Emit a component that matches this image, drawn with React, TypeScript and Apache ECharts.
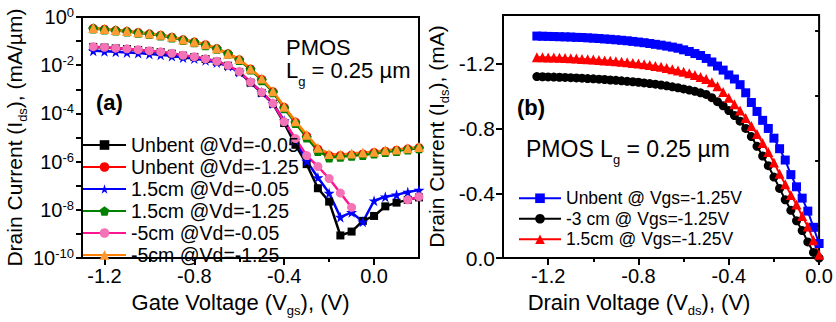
import React, { useEffect, useRef } from 'react';
import * as echarts from 'echarts';

const FONT = "'Liberation Sans', Arial, sans-serif";

// ---------- Panel (a): transfer characteristics ----------
const vgs = [-1.25, -1.2, -1.15, -1.1, -1.05, -1.0, -0.95, -0.9, -0.85, -0.8, -0.75, -0.7, -0.65, -0.6, -0.55, -0.5, -0.45, -0.4, -0.35, -0.3, -0.25, -0.2, -0.15, -0.1, -0.05, 0, 0.05, 0.1, 0.15, 0.2];

const unbentVd005 = [5.75e-2, 5.4e-2, 5.0e-2, 4.7e-2, 4.3e-2, 3.9e-2, 3.5e-2, 3.0e-2, 2.5e-2, 2.2e-2, 1.8e-2, 1.4e-2, 9.5e-3, 5.2e-3, 1.9e-3, 7.1e-4, 2.5e-4, 4.0e-5, 5.0e-6, 7.9e-7, 7.9e-8, 2.2e-8, 8.7e-10, 1.26e-9, 3.5e-9, 5.6e-9, 1.4e-8, 2.0e-8, 2.6e-8, 3.3e-8];
const unbentVd125 = [3.4e-1, 3.1e-1, 2.8e-1, 2.55e-1, 2.3e-1, 2.0e-1, 1.75e-1, 1.45e-1, 1.15e-1, 9.2e-2, 7.1e-2, 4.9e-2, 3.0e-2, 1.7e-2, 7.0e-3, 2.6e-3, 8.0e-4, 1.8e-4, 4.4e-5, 1.15e-5, 3.3e-6, 1.8e-6, 1.8e-6, 1.9e-6, 2.1e-6, 2.4e-6, 2.7e-6, 3.0e-6, 3.4e-6, 3.8e-6];
const cm15Vd005 = [4.0e-2, 3.8e-2, 3.6e-2, 3.4e-2, 3.2e-2, 2.95e-2, 2.7e-2, 2.4e-2, 2.1e-2, 1.9e-2, 1.6e-2, 1.3e-2, 9.3e-3, 5.2e-3, 2.0e-3, 7.6e-4, 2.6e-4, 5.0e-5, 7.9e-6, 1.07e-6, 2.2e-7, 5.0e-8, 5.0e-9, 7.9e-9, 3.2e-9, 2.4e-8, 3.5e-8, 4.2e-8, 5.5e-8, 6.6e-8];
const cm15Vd125 = [3.3e-1, 3.0e-1, 2.75e-1, 2.5e-1, 2.24e-1, 1.95e-1, 1.7e-1, 1.41e-1, 1.12e-1, 8.9e-2, 6.8e-2, 4.8e-2, 3.0e-2, 1.66e-2, 6.6e-3, 2.4e-3, 7.6e-4, 1.66e-4, 4.0e-5, 1.0e-5, 2.8e-6, 1.5e-6, 1.6e-6, 1.74e-6, 1.9e-6, 2.2e-6, 2.5e-6, 2.8e-6, 3.2e-6, 3.6e-6];
const cm5Vd005 = [5.9e-2, 5.5e-2, 5.1e-2, 4.8e-2, 4.4e-2, 4.0e-2, 3.6e-2, 3.1e-2, 2.6e-2, 2.25e-2, 1.85e-2, 1.45e-2, 9.8e-3, 5.5e-3, 2.0e-3, 7.5e-4, 2.6e-4, 4.5e-5, 9.1e-6, 1.78e-6, 6.3e-7, 2.0e-7, 5.0e-8, 1.26e-8, null, null, null, null, 2.6e-8, 3.5e-8];
const cm5Vd125 = [3.47e-1, 3.16e-1, 2.88e-1, 2.63e-1, 2.34e-1, 2.09e-1, 1.82e-1, 1.51e-1, 1.17e-1, 9.5e-2, 7.4e-2, 5.0e-2, 3.0e-2, 1.82e-2, 7.2e-3, 2.8e-3, 8.3e-4, 1.9e-4, 4.8e-5, 1.3e-5, 3.8e-6, 2.1e-6, 2.0e-6, 2.2e-6, 2.4e-6, 2.6e-6, 2.95e-6, 3.2e-6, 3.6e-6, 4.1e-6];

const aXTicks = [-1.2, -0.8, -0.4, 0.0];
const aXMinorTicks = [-1.0, -0.6, -0.2];

// ---------- Panel (b): output characteristics ----------
const vds = [-1.25, -1.225, -1.2, -1.175, -1.15, -1.125, -1.1, -1.075, -1.05, -1.025, -1.0, -0.975, -0.95, -0.925, -0.9, -0.875, -0.85, -0.825, -0.8, -0.775, -0.75, -0.725, -0.7, -0.675, -0.65, -0.625, -0.6, -0.575, -0.55, -0.525, -0.5, -0.475, -0.45, -0.425, -0.4, -0.375, -0.35, -0.325, -0.3, -0.275, -0.25, -0.225, -0.2, -0.175, -0.15, -0.125, -0.1, -0.075, -0.05, -0.025, 0];

const unbentIds = [-1.370, -1.369, -1.368, -1.367, -1.366, -1.365, -1.364, -1.362, -1.361, -1.359, -1.357, -1.355, -1.352, -1.350, -1.347, -1.344, -1.341, -1.337, -1.333, -1.329, -1.324, -1.319, -1.314, -1.308, -1.302, -1.295, -1.285, -1.275, -1.262, -1.250, -1.232, -1.210, -1.185, -1.160, -1.130, -1.105, -1.070, -1.020, -0.960, -0.905, -0.850, -0.800, -0.740, -0.675, -0.605, -0.515, -0.440, -0.370, -0.290, -0.190, -0.090];
const minus3cmIds = [-1.120, -1.119, -1.118, -1.117, -1.116, -1.115, -1.113, -1.112, -1.110, -1.108, -1.106, -1.104, -1.102, -1.099, -1.097, -1.094, -1.091, -1.088, -1.085, -1.081, -1.077, -1.073, -1.068, -1.063, -1.057, -1.051, -1.044, -1.037, -1.029, -1.020, -1.010, -0.990, -0.965, -0.940, -0.910, -0.880, -0.845, -0.800, -0.750, -0.690, -0.630, -0.570, -0.500, -0.430, -0.360, -0.295, -0.230, -0.170, -0.100, -0.035, 0.000];
const cm15Ids = [-1.240, -1.239, -1.238, -1.237, -1.236, -1.234, -1.233, -1.231, -1.229, -1.227, -1.225, -1.222, -1.220, -1.217, -1.214, -1.211, -1.208, -1.204, -1.200, -1.196, -1.191, -1.186, -1.180, -1.173, -1.166, -1.158, -1.150, -1.140, -1.130, -1.118, -1.105, -1.085, -1.060, -1.025, -0.990, -0.950, -0.910, -0.865, -0.815, -0.765, -0.710, -0.655, -0.590, -0.520, -0.455, -0.390, -0.330, -0.260, -0.195, -0.110, -0.020];

const bXTicks = [-1.2, -0.8, -0.4, 0.0];
const bXMinorTicks = [-1.0, -0.6, -0.2];
const bYTicks = [-1.2, -0.8, -0.4, 0.0];
const bYMinorTicks = [-1.4, -1.0, -0.6, -0.2];

const STAR = 'path://M50,0 L61,35 L98,35 L68,57 L79,91 L50,70 L21,91 L32,57 L2,35 L39,35 Z';
const PENTAGON = 'path://M50,0 L98,36 L80,95 L20,95 L2,36 Z';

const subRich = (main: number, subSize: number, pad: number) => ({
  n: { fontSize: main, fontFamily: FONT, color: '#000' },
  s: { fontSize: subSize, fontFamily: FONT, color: '#000', padding: [pad, 0, 0, 0] },
});

const axisLineStyle = { color: '#000', width: 2 };

export default function App() {
  const ref = useRef<HTMLDivElement>(null);

  useEffect(() => {
    document.body.style.margin = '0';
    if (!ref.current) return;
    const chart = echarts.init(ref.current, undefined, { renderer: 'svg' });

    const pairs = (xs: number[], ys: (number | null)[]) => xs.map((x, i) => [x, ys[i] == null ? null : ys[i]]);

    const leftSeries = (name: string, ys: (number | null)[], color: string, symbol: string, size: number, markColor?: string) => ({
      type: 'line',
      name,
      xAxisIndex: 0,
      yAxisIndex: 0,
      data: pairs(vgs, ys),
      symbol,
      symbolSize: size,
      connectNulls: false,
      lineStyle: { color, width: 2.5 },
      itemStyle: { color: markColor || color },
    });

    const rightSeries = (name: string, ys: number[], color: string, symbol: string, size: number) => ({
      type: 'line',
      name,
      xAxisIndex: 2,
      yAxisIndex: 1,
      data: pairs(vds, ys),
      symbol,
      symbolSize: size,
      lineStyle: { color, width: 2 },
      itemStyle: { color },
    });

    const labelFmt = (v: number) => v.toFixed(1);

    const option: any = {
      animation: false,
      grid: [
        { left: 82, top: 17, width: 337, height: 248, show: true, borderColor: '#000', borderWidth: 2, backgroundColor: 'transparent' },
        { left: 503, top: 15, width: 319, height: 251, show: true, borderColor: '#000', borderWidth: 2, backgroundColor: 'transparent' },
      ],
      xAxis: [
        {
          type: 'value', gridIndex: 0, min: -1.3, max: 0.2,
          axisLine: { show: true, onZero: false, lineStyle: axisLineStyle },
          axisTick: { show: true, length: 7, customValues: aXTicks, lineStyle: axisLineStyle },
          axisLabel: { customValues: aXTicks, formatter: labelFmt, fontSize: 20, fontFamily: FONT, color: '#000', margin: 8 },
          splitLine: { show: false },
          name: '{n|Gate Voltage (V}{s|gs}{n|), (V)}',
          nameLocation: 'middle', nameGap: 27,
          nameTextStyle: { rich: subRich(22, 13, 17), padding: [0, 20, 0, 0] },
        },
        {
          type: 'value', gridIndex: 0, min: -1.3, max: 0.2, position: 'bottom',
          axisLine: { show: false },
          axisTick: { show: true, length: 4, customValues: aXMinorTicks, lineStyle: axisLineStyle },
          axisLabel: { show: false },
          splitLine: { show: false },
        },
        {
          type: 'value', gridIndex: 1, min: -1.4, max: 0,
          axisLine: { show: true, onZero: false, lineStyle: axisLineStyle },
          axisTick: { show: true, length: 7, customValues: bXTicks, lineStyle: axisLineStyle },
          axisLabel: { customValues: bXTicks, formatter: labelFmt, fontSize: 20, fontFamily: FONT, color: '#000', margin: 8 },
          splitLine: { show: false },
          name: '{n|Drain Voltage (V}{s|ds}{n|), (V)}',
          nameLocation: 'middle', nameGap: 27,
          nameTextStyle: { rich: subRich(22, 13, 17), padding: [0, 44, 0, 0] },
        },
        {
          type: 'value', gridIndex: 1, min: -1.4, max: 0, position: 'bottom',
          axisLine: { show: false },
          axisTick: { show: true, length: 4, customValues: bXMinorTicks, lineStyle: axisLineStyle },
          axisLabel: { show: false },
          splitLine: { show: false },
        },
      ],
      yAxis: [
        {
          type: 'log', logBase: 10, gridIndex: 0, min: 1e-10, max: 1, interval: 1,
          axisLine: { show: true, onZero: false, lineStyle: axisLineStyle },
          axisTick: { show: true, length: 6, lineStyle: axisLineStyle },
          axisLabel: {
            fontSize: 20, fontFamily: FONT, color: '#000', margin: 8,
            formatter: (v: number) => {
              const e = Math.round(Math.log10(v));
              return e % 2 === 0 ? `{b|10}{s|${e}}` : '';
            },
            rich: {
              b: { fontSize: 20, fontFamily: FONT, color: '#000' },
              s: { fontSize: 13, fontFamily: FONT, color: '#000', padding: [0, 0, 9, 0] },
            },
          },
          splitLine: { show: false },
          name: '{n|Drain Current (I}{s|ds}{n|), (mA/µm)}',
          nameLocation: 'middle', nameGap: 51,
          nameTextStyle: { rich: subRich(21, 13, 17) },
        },
        {
          type: 'value', gridIndex: 1, min: -1.5, max: 0, inverse: true,
          axisLine: { show: true, onZero: false, lineStyle: axisLineStyle },
          axisTick: { show: true, length: 7, customValues: bYTicks, lineStyle: axisLineStyle },
          axisLabel: { customValues: bYTicks, formatter: labelFmt, fontSize: 21, fontFamily: FONT, color: '#000', margin: 8 },
          splitLine: { show: false },
          name: '{n|Drain Current (I}{s|ds}{n|), (mA)}',
          nameLocation: 'middle', nameGap: 52,
          nameTextStyle: { rich: subRich(21, 13, 17) },
        },
        {
          type: 'value', gridIndex: 1, min: -1.5, max: 0, inverse: true, position: 'left',
          axisLine: { show: false },
          axisTick: { show: true, length: 4, customValues: bYMinorTicks, lineStyle: axisLineStyle },
          axisLabel: { show: false },
          splitLine: { show: false },
        },
      ],
      legend: [
        {
          orient: 'vertical', left: 82, top: 135, padding: 0,
          itemWidth: 43, itemHeight: 12, itemGap: 2, selectedMode: false,
          textStyle: { fontSize: 19.5, fontFamily: FONT, color: '#000', lineHeight: 19.6 },
          data: ['Unbent @Vd=-0.05', 'Unbent @Vd=-1.25', '1.5cm @Vd=-0.05', '1.5cm @Vd=-1.25', '-5cm @Vd=-0.05', '-5cm @Vd=-1.25'],
        },
        {
          orient: 'vertical', left: 518, top: 189, padding: 0,
          itemWidth: 42, itemHeight: 12, itemGap: 2, selectedMode: false,
          textStyle: { fontSize: 17.5, fontFamily: FONT, color: '#000', lineHeight: 18.5 },
          data: ['Unbent @ Vgs=-1.25V', '-3 cm @ Vgs=-1.25V', '1.5cm @ Vgs=-1.25V'],
        },
      ],
      graphic: [
        { type: 'text', left: 286, top: 36, style: { text: 'PMOS', fontSize: 22, fontFamily: FONT, fill: '#000' } },
        {
          type: 'text', left: 286, top: 59,
          style: { text: '{n|L}{s|g}{n| = 0.25 µm}', rich: subRich(22, 13, 22) },
        },
        { type: 'text', left: 96, top: 91, style: { text: '(a)', fontSize: 22, fontWeight: 'bold', fontFamily: FONT, fill: '#000' } },
        { type: 'text', left: 517, top: 96, style: { text: '(b)', fontSize: 22, fontWeight: 'bold', fontFamily: FONT, fill: '#000' } },
        {
          type: 'text', left: 526, top: 137,
          style: { text: '{n|PMOS L}{s|g}{n| = 0.25 µm}', rich: subRich(23, 13, 22) },
        },
      ],
      series: [
        leftSeries('Unbent @Vd=-0.05', unbentVd005, '#000000', 'rect', 8),
        leftSeries('1.5cm @Vd=-0.05', cm15Vd005, '#0000ff', STAR, 11),
        leftSeries('-5cm @Vd=-0.05', cm5Vd005, '#ff1493', 'circle', 9, '#f472b6'),
        leftSeries('Unbent @Vd=-1.25', unbentVd125, '#ff0000', 'circle', 9),
        leftSeries('1.5cm @Vd=-1.25', cm15Vd125, '#008000', PENTAGON, 10),
        leftSeries('-5cm @Vd=-1.25', cm5Vd125, '#ff8000', 'triangle', 10, '#ff9a30'),
        rightSeries('Unbent @ Vgs=-1.25V', unbentIds, '#0000ff', 'rect', 9),
        rightSeries('-3 cm @ Vgs=-1.25V', minus3cmIds, '#000000', 'circle', 9),
        rightSeries('1.5cm @ Vgs=-1.25V', cm15Ids, '#ff0000', 'triangle', 10),
      ],
    };

    chart.setOption(option);
    return () => chart.dispose();
  }, []);

  return <div ref={ref} style={{ width: 836, height: 322 }} />;
}
